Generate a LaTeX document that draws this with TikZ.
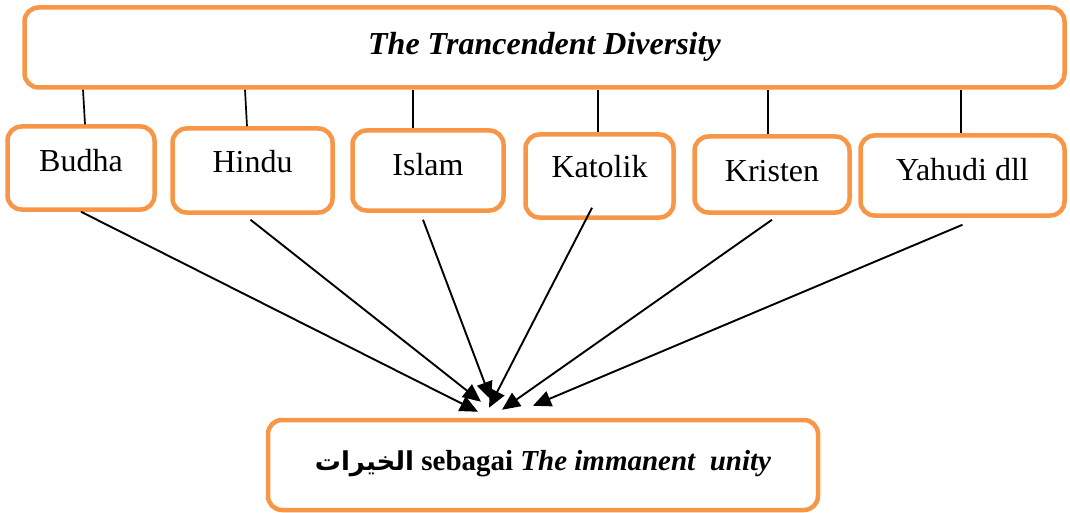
\documentclass[tikz,border=0pt]{standalone}
\usepackage{fontspec}
\setmainfont{Liberation Serif}
\newfontfamily\arabicfont[Script=Arabic]{DejaVu Sans}
\TeXXeTstate=1
\usetikzlibrary{arrows.meta}
\definecolor{boxorange}{HTML}{F79646}
\tikzset{
  rbox/.style={draw=boxorange, line width=4.5pt, rounded corners=14pt, fill=white,
    inner sep=0pt, font=\fontsize{32}{37}\selectfont, text height=22pt, text depth=14pt},
  link/.style={line width=1.7pt},
  flow/.style={line width=1.9pt, -{Triangle[length=18pt,width=16pt]}},
}
\begin{document}
\begin{tikzpicture}[x=1pt,y=-1pt]
\useasboundingbox (0,0) rectangle (1070,513);
% top and bottom boxes
\node[rbox, minimum width=1040pt, minimum height=80pt, text depth=7pt] (diversity) at (544.5,47.5) {\textbf{\textit{The Trancendent Diversity}}};
\node[rbox, minimum width=550pt, minimum height=90pt, text depth=12pt, font=\fontsize{29}{34}\selectfont] (unity) at (543,465)
  {{\arabicfont\bfseries\fontsize{26}{30}\selectfont\beginR الخيرات\endR} \textbf{sebagai} \textbf{\textit{The immanent\ \ unity}}\hspace{18pt}};
% religions
\node[rbox, minimum width=147pt, minimum height=83pt] (budha) at (81,168) {Budha};
\node[rbox, minimum width=160pt, minimum height=84pt, text depth=18pt] (hindu) at (252.5,170.5) {Hindu};
\node[rbox, minimum width=151pt, minimum height=80pt, text depth=11pt] (islam) at (428,170.5) {Islam};
\node[rbox, minimum width=148pt, minimum height=83pt, text depth=18pt] (katolik) at (599.5,176) {Katolik};
\node[rbox, minimum width=155pt, minimum height=76pt, text depth=7pt] (kristen) at (772,174.5) {Kristen};
\node[rbox, minimum width=204pt, minimum height=80pt, text depth=11pt] (yahudi) at (962.5,175.5) {Yahudi dll};
% links to the top box
\draw[link] ([xshift=4pt]budha.north) -- ([xshift=2pt]budha.north |- diversity.south);
\draw[link] ([xshift=-5.5pt]hindu.north) -- ([xshift=-7.5pt]hindu.north |- diversity.south);
\draw[link] ([xshift=-15pt]islam.north) -- ([xshift=-15pt]islam.north |- diversity.south);
\draw[link] ([xshift=-1.5pt]katolik.north) -- ([xshift=-1.5pt]katolik.north |- diversity.south);
\draw[link] ([xshift=-4pt]kristen.north) -- ([xshift=-4pt]kristen.north |- diversity.south);
\draw[link] ([xshift=-1.5pt]yahudi.north) -- ([xshift=-1.5pt]yahudi.north |- diversity.south);
% arrows down to the unity box
\draw[flow] (budha.south) -- ([xshift=-65pt,yshift=6pt]unity.north);
\draw[flow] ([xshift=-2pt,yshift=-5pt]hindu.south) -- ([xshift=-62pt,yshift=16pt]unity.north);
\draw[flow] ([xshift=-5pt,yshift=-7pt]islam.south) -- ([xshift=-52pt,yshift=18pt]unity.north);
\draw[flow] ([xshift=-7.5pt,yshift=12pt]katolik.south) -- ([xshift=-54pt,yshift=10pt]unity.north);
\draw[flow] ([yshift=-5pt]kristen.south) -- ([xshift=-41pt,yshift=8pt]unity.north);
\draw[flow] ([yshift=-7pt]yahudi.south) -- ([xshift=-10pt,yshift=12pt]unity.north);
\end{tikzpicture}
\end{document}
